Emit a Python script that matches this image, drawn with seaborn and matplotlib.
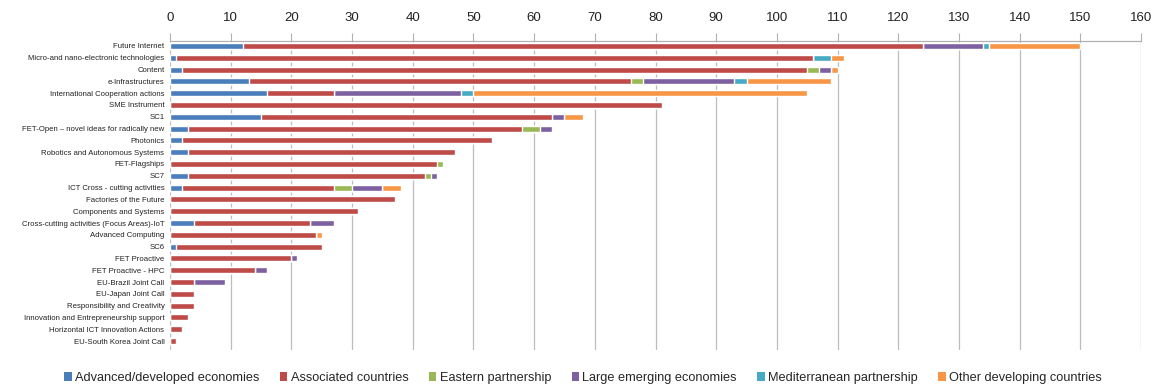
import matplotlib
matplotlib.use("Agg")
import matplotlib.pyplot as plt
from matplotlib.patches import Patch
import seaborn as sns
import pandas as pd
import numpy as np

categories = [
    "Future Internet",
    "Micro-and nano-electronic technologies",
    "Content",
    "e-Infrastructures",
    "International Cooperation actions",
    "SME Instrument",
    "SC1",
    "FET-Open \u2013 novel ideas for radically new",
    "Photonics",
    "Robotics and Autonomous Systems",
    "FET-Flagships",
    "SC7",
    "ICT Cross - cutting activities",
    "Factories of the Future",
    "Components and Systems",
    "Cross-cutting activities (Focus Areas)-IoT",
    "Advanced Computing",
    "SC6",
    "FET Proactive",
    "FET Proactive - HPC",
    "EU-Brazil Joint Call",
    "EU-Japan Joint Call",
    "Responsibility and Creativity",
    "Innovation and Entrepreneurship support",
    "Horizontal ICT Innovation Actions",
    "EU-South Korea Joint Call",
]

advanced   = [12, 1, 2, 13, 16, 0, 15, 3, 2, 3, 0, 3, 2, 0, 0, 4, 0, 1, 0, 0, 0, 0, 0, 0, 0, 0]
associated = [112, 105, 103, 63, 11, 81, 48, 55, 51, 44, 44, 39, 25, 37, 31, 19, 24, 24, 20, 14, 4, 4, 4, 3, 2, 1]
eastern    = [0, 0, 2, 2, 0, 0, 0, 3, 0, 0, 1, 1, 3, 0, 0, 0, 0, 0, 0, 0, 0, 0, 0, 0, 0, 0]
emerging   = [10, 0, 2, 15, 21, 0, 2, 2, 0, 0, 0, 1, 5, 0, 0, 4, 0, 0, 1, 2, 5, 0, 0, 0, 0, 0]
mediterr   = [1, 3, 0, 2, 2, 0, 0, 0, 0, 0, 0, 0, 0, 0, 0, 0, 0, 0, 0, 0, 0, 0, 0, 0, 0, 0]
other_dev  = [15, 2, 1, 14, 55, 0, 3, 0, 0, 0, 0, 0, 3, 0, 0, 0, 1, 0, 0, 0, 0, 0, 0, 0, 0, 0]

series_names = ["Advanced/developed economies", "Associated countries", "Eastern partnership",
                "Large emerging economies", "Mediterranean partnership", "Other developing countries"]
series_values = [advanced, associated, eastern, emerging, mediterr, other_dev]
colors = ["#4A7EBB", "#BE4B48", "#98B954", "#7D60A0", "#46AAC5", "#F79646"]
x_ticks = list(range(0, 161, 10))

sns.set_theme(style="white")
plt.rcParams['font.family'] = ['Liberation Sans', 'DejaVu Sans']

fig = plt.figure(figsize=(11.56, 3.87), dpi=100)
ax = fig.add_axes([170/1156, 1 - 350/387, (1141-170)/1156, (350-41)/387])

cum = np.cumsum(np.array(series_values), axis=0)
for i in range(len(series_names) - 1, -1, -1):
    df = pd.DataFrame({"cat": categories, "val": cum[i]})
    sns.barplot(data=df, x="val", y="cat", color=colors[i], orient="h",
                width=0.5, ax=ax, saturation=1, zorder=3)

ax.set_xlim(0, 160)
ax.set_ylim(25.76, -0.42)
ax.set_xticks(x_ticks)
ax.xaxis.tick_top()
ax.xaxis.set_label_position("top")
ax.set_xlabel("")
ax.set_ylabel("")
ax.tick_params(axis="x", labelsize=9.5, length=6, color="#B0B0B0", width=0.8, pad=6)
ax.tick_params(axis="x", labelcolor="#222222")
ax.tick_params(axis="y", labelsize=5.6, length=0, pad=4, labelcolor="#222222")
ax.grid(axis="x", color="#BDBDBD", linewidth=0.9, zorder=0)
ax.set_axisbelow(True)
for s in ["right", "bottom", "left"]:
    ax.spines[s].set_visible(False)
ax.spines["top"].set_color("#B0B0B0")
ax.spines["top"].set_linewidth(0.9)

handles = [Patch(facecolor=c, edgecolor="none") for c in colors]
fig.legend(handles, series_names, loc="center", bbox_to_anchor=(583/1156, 1 - 378/387),
           ncol=6, frameon=False, fontsize=9.2, handlelength=0.6, handleheight=0.6,
           handletextpad=0.25, columnspacing=1.6)

fig.savefig("out.png", dpi=100)
